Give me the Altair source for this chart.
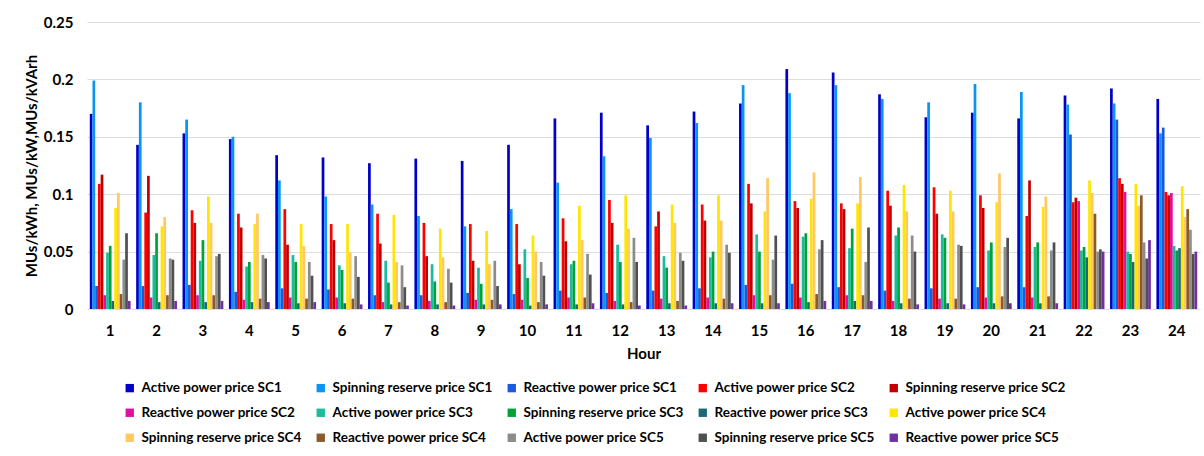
import altair as alt
import pandas as pd

hours = [str(h) for h in range(1, 25)]

series = [
    "Active power price SC1", "Spinning reserve price SC1", "Reactive power price SC1",
    "Active power price SC2", "Spinning reserve price SC2",
    "Reactive power price SC2", "Active power price SC3", "Spinning reserve price SC3",
    "Reactive power price SC3", "Active power price SC4",
    "Spinning reserve price SC4", "Reactive power price SC4", "Active power price SC5",
    "Spinning reserve price SC5", "Reactive power price SC5",
]

colors = [
    "#0000C8", "#0A96F0", "#1A5AE0", "#FF0000", "#C00000",
    "#E0119D", "#1ABC9C", "#00A33A", "#1A6878", "#FFE500",
    "#FFC860", "#8B5A2B", "#8C8C8C", "#505050", "#7030A0",
]

active_sc1 = [0.170, 0.143, 0.153, 0.148, 0.134, 0.132, 0.127, 0.131, 0.129, 0.143, 0.166, 0.171,
              0.160, 0.172, 0.179, 0.209, 0.206, 0.187, 0.167, 0.171, 0.166, 0.186, 0.192, 0.183]
spin_sc1 = [0.199, 0.180, 0.165, 0.150, 0.112, 0.098, 0.091, 0.081, 0.072, 0.087, 0.110, 0.133,
            0.149, 0.162, 0.195, 0.188, 0.195, 0.183, 0.180, 0.196, 0.189, 0.178, 0.179, 0.153]
react_sc1 = [0.020, 0.020, 0.021, 0.015, 0.018, 0.017, 0.012, 0.012, 0.014, 0.013, 0.016, 0.014,
             0.016, 0.018, 0.021, 0.022, 0.019, 0.016, 0.018, 0.019, 0.019, 0.152, 0.165, 0.158]
active_sc2 = [0.109, 0.084, 0.086, 0.083, 0.087, 0.074, 0.083, 0.075, 0.074, 0.074, 0.079, 0.095,
              0.072, 0.091, 0.109, 0.094, 0.092, 0.103, 0.106, 0.099, 0.081, 0.093, 0.114, 0.102]
spin_sc2 = [0.117, 0.116, 0.075, 0.071, 0.056, 0.060, 0.057, 0.046, 0.042, 0.039, 0.059, 0.075,
            0.085, 0.077, 0.092, 0.088, 0.087, 0.090, 0.083, 0.088, 0.112, 0.097, 0.109, 0.099]
react_sc2 = [0.012, 0.010, 0.012, 0.008, 0.010, 0.010, 0.006, 0.007, 0.008, 0.008, 0.010, 0.007,
             0.009, 0.010, 0.012, 0.010, 0.012, 0.007, 0.009, 0.010, 0.010, 0.094, 0.102, 0.101]
active_sc3 = [0.049, 0.047, 0.042, 0.037, 0.047, 0.038, 0.042, 0.039, 0.036, 0.052, 0.039, 0.056,
              0.046, 0.045, 0.065, 0.063, 0.053, 0.064, 0.065, 0.051, 0.054, 0.051, 0.050, 0.055]
spin_sc3 = [0.055, 0.066, 0.060, 0.041, 0.041, 0.034, 0.023, 0.024, 0.022, 0.027, 0.042, 0.041,
            0.036, 0.050, 0.050, 0.066, 0.070, 0.071, 0.062, 0.058, 0.058, 0.054, 0.048, 0.051]
react_sc3 = [0.007, 0.006, 0.006, 0.006, 0.005, 0.005, 0.004, 0.004, 0.004, 0.003, 0.004, 0.004,
             0.005, 0.005, 0.005, 0.006, 0.007, 0.005, 0.005, 0.005, 0.005, 0.045, 0.041, 0.053]
active_sc4 = [0.088, 0.072, 0.098, 0.074, 0.074, 0.074, 0.082, 0.070, 0.068, 0.064, 0.090, 0.099,
              0.091, 0.099, 0.085, 0.096, 0.092, 0.108, 0.103, 0.093, 0.089, 0.112, 0.109, 0.107]
spin_sc4 = [0.101, 0.080, 0.075, 0.083, 0.055, 0.049, 0.041, 0.045, 0.039, 0.050, 0.060, 0.070,
            0.075, 0.077, 0.114, 0.119, 0.115, 0.085, 0.085, 0.118, 0.098, 0.101, 0.090, 0.080]
react_sc4 = [0.013, 0.012, 0.012, 0.009, 0.009, 0.009, 0.006, 0.006, 0.008, 0.006, 0.010, 0.006,
             0.007, 0.009, 0.012, 0.013, 0.012, 0.009, 0.009, 0.011, 0.011, 0.083, 0.099, 0.087]
active_sc5 = [0.043, 0.044, 0.046, 0.047, 0.041, 0.046, 0.038, 0.035, 0.042, 0.041, 0.048, 0.062,
              0.049, 0.056, 0.043, 0.052, 0.041, 0.064, 0.056, 0.054, 0.051, 0.050, 0.058, 0.069]
spin_sc5 = [0.066, 0.043, 0.048, 0.044, 0.029, 0.028, 0.019, 0.023, 0.020, 0.029, 0.030, 0.041,
            0.042, 0.049, 0.064, 0.060, 0.071, 0.050, 0.055, 0.062, 0.058, 0.052, 0.044, 0.048]
react_sc5 = [0.007, 0.007, 0.007, 0.006, 0.006, 0.004, 0.003, 0.003, 0.004, 0.004, 0.005, 0.003,
             0.003, 0.005, 0.005, 0.007, 0.007, 0.004, 0.004, 0.005, 0.005, 0.050, 0.060, 0.050]

values = [active_sc1, spin_sc1, react_sc1, active_sc2, spin_sc2,
          react_sc2, active_sc3, spin_sc3, react_sc3, active_sc4,
          spin_sc4, react_sc4, active_sc5, spin_sc5, react_sc5]

rows = []
for name, vals in zip(series, values):
    for h, v in zip(hours, vals):
        rows.append({"Hour": h, "Series": name, "Value": v})
df = pd.DataFrame(rows)

FONT = "Lato"

chart = alt.Chart(df).mark_bar().encode(
    x=alt.X("Hour:N", sort=hours,
            scale=alt.Scale(paddingInner=0.12, paddingOuter=0.06),
            axis=alt.Axis(title="Hour", labelAngle=0, ticks=False, domain=False, grid=False,
                          labelFont=FONT, labelFontSize=15, labelFontWeight="bold",
                          labelColor="#000000", labelPadding=14,
                          titleFont=FONT, titleFontSize=15, titleFontWeight="bold",
                          titleColor="#000000", titlePadding=8)),
    xOffset=alt.XOffset("Series:N", sort=series, scale=alt.Scale(paddingInner=0, paddingOuter=0)),
    y=alt.Y("Value:Q",
            scale=alt.Scale(domain=[0, 0.25], nice=False),
            axis=alt.Axis(title="MUs/kWh, MUs/kW,MUs/kVArh", values=[0, 0.05, 0.1, 0.15, 0.2, 0.25],
                          format=".2~f", ticks=False, domain=False,
                          gridColor="#DDDDDD", gridWidth=1,
                          labelFont=FONT, labelFontSize=15, labelFontWeight="bold",
                          labelColor="#000000", labelPadding=14,
                          titleFont=FONT, titleFontSize=15, titleFontWeight="bold",
                          titleColor="#000000", titlePadding=4)),
    color=alt.Color("Series:N", sort=series,
                    scale=alt.Scale(domain=series, range=colors),
                    legend=alt.Legend(title=None, orient="none", legendX=36, legendY=359,
                                      direction="horizontal", columns=5,
                                      symbolType="square", symbolSize=70, symbolStrokeWidth=0,
                                      labelFont=FONT, labelFontSize=13.5, labelFontWeight="bold",
                                      labelColor="#000000", columnPadding=12, rowPadding=10,
                                      labelOffset=5)),
).properties(
    width=1113, height=287,
    autosize=alt.AutoSizeParams(type="none"),
    padding={"left": 87, "top": 22, "right": 4, "bottom": 147},
    background="#FFFFFF",
).configure_view(stroke=None)

chart.save("out.html", embed_options={"renderer": "svg", "actions": False})
